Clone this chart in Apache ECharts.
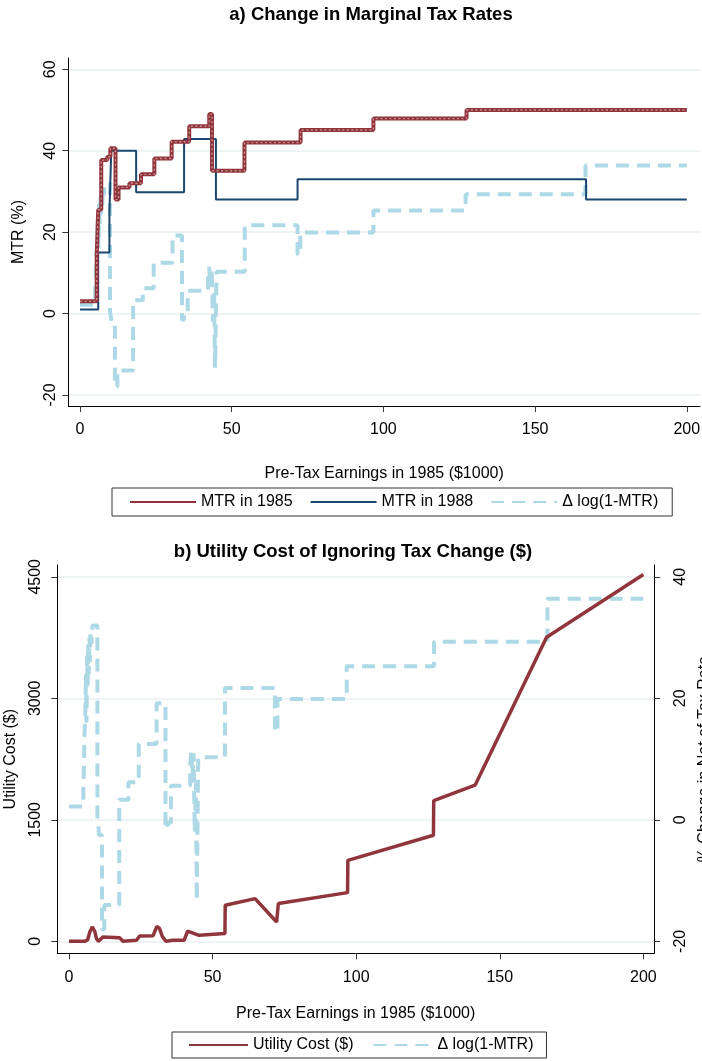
<!DOCTYPE html>
<html>
<head>
<meta charset="utf-8">
<script src="https://cdn.jsdelivr.net/npm/echarts@6/dist/echarts.min.js"></script>
<style>
html,body{margin:0;padding:0;background:#fff;}
#chart{width:702px;height:1061px;}
</style>
</head>
<body>
<div id="chart"></div>
<script>
// ---- data (x = pre-tax earnings in 1985, $1000) ----
const earningsTicks = [0, 50, 100, 150, 200];
const mtrTicks = [-20, 0, 20, 40, 60];
const costTicks = [0, 1500, 3000, 4500];
const pctTicks = [-20, 0, 20, 40];

// MTR in 1985 (%), stairstep breakpoints [earnings, rate]
const mtr1985 = [[0,3],[5.5,14],[6,25.5],[7,37.7],[9,38.5],[10,40.6],[11.7,28],[12.7,31],[16.3,32],[20.1,34.2],[24.5,38.1],[30.2,42.2],[36,46],[42.6,49],[43.5,35.1],[54.2,42],[72.7,45.1],[96.7,47.9],[127.4,50],[200,50]];
// MTR in 1988 (%)
const mtr1988 = [[0,1],[6,15],[9.7,25],[10.3,40],[18.5,29.8],[34.3,42.9],[44.8,28],[71.7,33],[166.8,28],[200,28]];
// Delta log(1-MTR) (%)
const dlogMtr = [[0,2.2],[5.0,5],[5.2,9],[5.4,14],[5.7,18],[5.9,24],[6.1,16],[6.3,27],[6.5,22],[6.7,29],[6.9,24],[7.1,30],[7.3,26],[7.5,31],[7.8,29],[8.2,32],[9.9,0.5],[10.5,-2.5],[11.5,-18],[12.3,-14],[17.5,3.3],[20.7,6.2],[24.3,12.5],[30.5,19.2],[33.6,-1.5],[34.3,-0.5],[35.5,5.6],[42.2,9],[42.6,11.5],[43.0,7],[43.4,11],[43.8,-2],[44.2,6],[44.5,-13.3],[45.0,10.3],[54.3,21.7],[71.7,14.5],[72.6,19.9],[96.7,25.3],[127.1,29.3],[166.6,36.4],[200,36.4]];
// Utility cost of ignoring tax change ($)
const utilityCost = [[0,0],[5.6,0],[6.5,20],[7.3,120],[8.1,177],[9,120],[9.6,30],[10.3,0],[11.8,53],[17.6,45],[18.8,0],[23.5,12],[24.6,66],[29.3,70],[30.6,185],[31.5,160],[32.5,60],[33.8,0],[36.1,12],[40.1,12],[41.3,127],[45.3,74],[54.3,95],[54.4,445],[64.8,527],[72.3,238],[72.9,466],[97,601],[97.1,1000],[126.9,1309],[127,1737],[141.4,1927],[166.3,3754],[200,4529]];

const DLOG = 'Δ log(1-MTR)';
const FONT = "'Liberation Sans', Arial, Helvetica, sans-serif";
const RED = '#90353b', NAVY = '#1a476f', LTBLUE = '#add8e6', GRID = '#e9f0f3';
const plain = v => String(v);

function xAxisCfg(gridIndex, min, max, nameGap) {
  return {
    type: 'value', gridIndex, min, max,
    name: 'Pre-Tax Earnings in 1985 ($1000)', nameLocation: 'middle', nameGap,
    nameTextStyle: {fontFamily: FONT, fontSize: 16, color: '#000'},
    axisLine: {show: true, onZero: false, lineStyle: {color: '#000', width: 1}},
    axisTick: {show: true, length: 6, customValues: earningsTicks, lineStyle: {color: '#333'}},
    axisLabel: {customValues: earningsTicks, formatter: plain, margin: 16, fontFamily: FONT, fontSize: 16, color: '#000'},
    splitLine: {show: false}
  };
}
function yAxisCfg(gridIndex, min, max, ticks, name, nameGap, position, margin, split) {
  return {
    type: 'value', gridIndex, min, max, position,
    name, nameLocation: 'middle', nameGap, nameRotate: 90,
    nameTextStyle: {fontFamily: FONT, fontSize: 16, color: '#000'},
    axisLine: {show: true, onZero: false, lineStyle: {color: '#000', width: 1}},
    axisTick: {show: true, length: 6, customValues: ticks, lineStyle: {color: '#333'}},
    axisLabel: {customValues: ticks, formatter: plain, rotate: 90, margin, fontFamily: FONT, fontSize: 16, color: '#000'},
    splitLine: {show: split, customValues: ticks, lineStyle: {color: GRID, width: 1.5}}
  };
}

const legendCommon = {
  itemHeight: 14, borderColor: '#333', borderWidth: 1,
  itemStyle: {opacity: 0},
  textStyle: {fontFamily: FONT, fontSize: 16, color: '#000'}
};

const chart = echarts.init(document.getElementById('chart'), null, {renderer: 'canvas'});
chart.setOption({
  animation: false,
  backgroundColor: '#fff',
  title: [
    {text: 'a) Change in Marginal Tax Rates', left: 371, top: 5, padding: 0, textAlign: 'center',
     textStyle: {fontFamily: FONT, fontSize: 18.5, fontWeight: 'bold', color: '#000'}},
    {text: 'b) Utility Cost of Ignoring Tax Change ($)', left: 353, top: 542, padding: 0, textAlign: 'center',
     textStyle: {fontFamily: FONT, fontSize: 18.5, fontWeight: 'bold', color: '#000'}}
  ],
  grid: [
    {left: 68.3, right: 2, top: 58, bottom: 655, outerBoundsMode: 'none', containLabel: false},
    {left: 57.3, right: 48, top: 565, bottom: 107.7, outerBoundsMode: 'none', containLabel: false}
  ],
  legend: [
    Object.assign({data: ['MTR in 1985', 'MTR in 1988', DLOG], left: 112, top: 488,
     padding: [6, 14, 6, 17], itemGap: 17, itemWidth: 66}, legendCommon),
    Object.assign({data: ['Utility Cost ($)', DLOG], left: 172, top: 1032,
     padding: [5, 13, 5, 16], itemGap: 19, itemWidth: 59}, legendCommon)
  ],
  xAxis: [
    xAxisCfg(0, -3.86, 204.35, 60),
    xAxisCfg(1, -4.07, 203.7, 52)
  ],
  yAxis: [
    yAxisCfg(0, -22.7, 62.78, mtrTicks, 'MTR (%)', 42, 'left', 10, true),
    yAxisCfg(1, -148, 4646, costTicks, 'Utility Cost ($)', 39, 'left', 14, true),
    yAxisCfg(1, -21.97, 41.95, pctTicks, '% Change in Net of Tax Rate', 42, 'right', 19, false)
  ],
  series: [
    {name: DLOG, type: 'line', xAxisIndex: 0, yAxisIndex: 0, step: 'end', data: dlogMtr,
     showSymbol: false, symbol: 'none', lineStyle: {color: LTBLUE, width: 4, type: [13, 8]}, itemStyle: {color: LTBLUE}, z: 2},
    {name: 'MTR in 1988', type: 'line', xAxisIndex: 0, yAxisIndex: 0, step: 'end', data: mtr1988,
     showSymbol: false, symbol: 'none', lineStyle: {color: NAVY, width: 2}, itemStyle: {color: NAVY}, z: 3},
    {name: 'MTR in 1985', type: 'line', xAxisIndex: 0, yAxisIndex: 0, step: 'end', data: mtr1985,
     showSymbol: false, symbol: 'none', lineStyle: {color: RED, width: 4}, itemStyle: {color: RED}, z: 4},
    {name: 'MTR in 1985 markers', type: 'line', xAxisIndex: 0, yAxisIndex: 0, step: 'end', data: mtr1985,
     showSymbol: false, symbol: 'none', silent: true, lineStyle: {color: '#c98a8e', width: 1.4, type: [2, 2.5]}, z: 5},
    {name: DLOG, type: 'line', xAxisIndex: 1, yAxisIndex: 2, step: 'end', data: dlogMtr,
     showSymbol: false, symbol: 'none', lineStyle: {color: LTBLUE, width: 4, type: [13, 8]}, itemStyle: {color: LTBLUE}, z: 2},
    {name: 'Utility Cost ($)', type: 'line', xAxisIndex: 1, yAxisIndex: 1, data: utilityCost,
     showSymbol: false, symbol: 'none', lineStyle: {color: RED, width: 3.5}, itemStyle: {color: RED}, z: 3}
  ]
});
</script>
</body>
</html>
